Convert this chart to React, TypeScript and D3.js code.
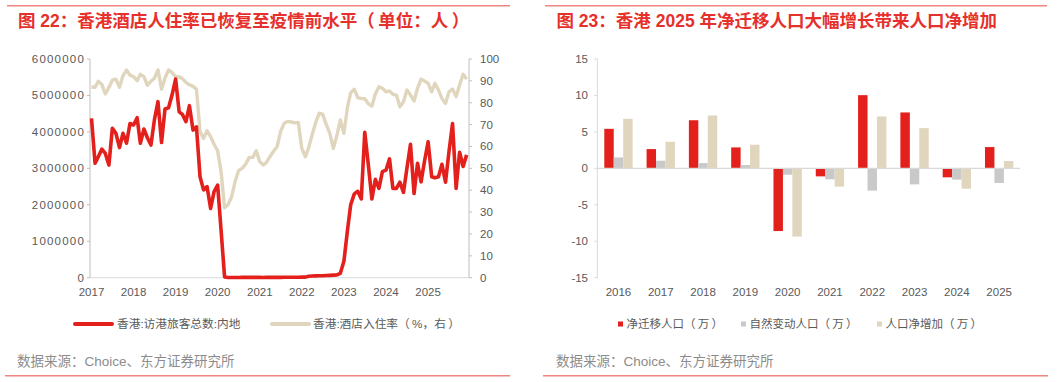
import React from "react";
import * as d3 from "d3";

// ---------- Left chart data (monthly, Jan 2017 – Dec 2025) ----------
const startMonth = new Date(2017, 0, 1);
const visitorsMainland = [
  4370000, 3140000, 3320000, 3530000, 3410000, 3090000, 4100000, 3960000, 3570000, 3960000, 3690000, 4230000,
  4190000, 4390000, 3690000, 4080000, 3840000, 3640000, 4330000, 4830000, 3710000, 4630000, 4660000, 5010000,
  5450000, 4550000, 4480000, 4280000, 4720000, 4050000, 4140000, 2770000, 2410000, 2500000, 1900000, 2360000,
  2540000, 1250000, 20000, 4000, 5000, 6000, 7000, 8000, 9000, 9000, 8000, 10000,
  8000, 7000, 8000, 9000, 9000, 10000, 10000, 11000, 12000, 12000, 13000, 14000,
  15000, 16000, 40000, 45000, 50000, 55000, 55000, 60000, 65000, 70000, 75000, 120000,
  450000, 1300000, 2000000, 2300000, 2370000, 2160000, 3990000, 3100000, 2160000, 2700000, 2450000, 2910000,
  2950000, 3260000, 2450000, 2450000, 2620000, 2340000, 3000000, 3660000, 2310000, 3140000, 2630000, 3200000,
  3730000, 2770000, 2740000, 2770000, 3110000, 2620000, 3460000, 4230000, 2450000, 3440000, 3050000, 3370000,
];
const hotelOccupancy = [
  87.2, 87.1, 89.8, 88.3, 84.0, 87.0, 90.3, 90.8, 87.1, 92.3, 94.9, 92.6,
  91.9, 90.1, 93.0, 91.9, 88.0, 89.8, 91.2, 95.0, 86.2, 91.3, 95.0, 93.8,
  92.0, 91.9, 91.0, 89.3, 88.2, 87.5, 86.2, 67.0, 63.7, 67.2, 64.5, 61.0,
  58.0, 48.0, 32.0, 33.5, 37.0, 44.0, 49.0, 50.0, 52.0, 55.0, 55.0, 58.0,
  53.0, 51.5, 52.8, 55.5, 57.8, 60.0, 67.0, 70.6, 71.5, 71.2, 70.8, 71.0,
  59.0, 55.3, 59.5, 65.5, 71.0, 75.2, 74.8, 70.0, 66.0, 59.1, 65.0, 72.1,
  66.0, 78.0, 84.6, 86.2, 82.3, 82.0, 81.8, 79.5, 78.5, 84.0, 87.3, 86.6,
  85.0, 85.4, 83.8, 83.5, 78.2, 80.5, 85.8, 83.5, 80.8, 86.6, 90.8, 89.9,
  88.9, 85.0, 88.9, 85.8, 82.0, 79.7, 85.0, 86.3, 82.8, 88.1, 93.0, 90.8,
];
const leftYTicks = [0, 1000000, 2000000, 3000000, 4000000, 5000000, 6000000];
const rightYTicks = [0, 10, 20, 30, 40, 50, 60, 70, 80, 90, 100];
const yearTicks = [2017, 2018, 2019, 2020, 2021, 2022, 2023, 2024, 2025];

// ---------- Right chart data ----------
const years = ["2016", "2017", "2018", "2019", "2020", "2021", "2022", "2023", "2024", "2025"];
const netMigration = [5.42, 2.64, 6.6, 2.87, -8.6, -1.1, 10.04, 7.67, -1.23, 2.92];
const naturalChange = [1.5, 1.05, 0.72, 0.45, -0.87, -1.5, -3.06, -2.2, -1.55, -2.0];
const netIncrease = [6.8, 3.65, 7.25, 3.24, -9.36, -2.5, 7.12, 5.52, -2.79, 1.0];
const barSeries = ["净迁移人口（\u2009万\u2009）", "自然变动人口（\u2009万\u2009）", "人口净增加（\u2009万\u2009）"];
const barTicks = [-15, -10, -5, 0, 5, 10, 15];

const RED = "#E3201B";
const BEIGE = "#E0D6BE";
const GRAY = "#C9C9C9";
const AXIS = "#BFBFBF";
const LABEL = "#595959";
const FONT = "'Liberation Sans', Arial, 'Noto Sans CJK SC', sans-serif";

export default function App() {
  // Left chart scales
  const dates = visitorsMainland.map((_, i) => d3.timeMonth.offset(startMonth, i));
  const x = d3
    .scaleTime()
    .domain([new Date(2017, 0, 1), new Date(2025, 11, 1)])
    .range([91.5, 466.6]);
  const yL = d3.scaleLinear().domain([0, 6000000]).range([277.7, 59]);
  const yR = d3.scaleLinear().domain([0, 100]).range([277.7, 59]);
  const redLine = d3
    .line<number>()
    .x((_, i) => x(dates[i]))
    .y((d) => yL(d))
    .curve(d3.curveLinear)(visitorsMainland) as string;
  const beigeLine = d3
    .line<number>()
    .x((_, i) => x(dates[i]))
    .y((d) => yR(d))(hotelOccupancy) as string;

  // Right chart scales
  const x0 = d3.scaleBand<string>().domain(years).range([597.3, 1020.3]).paddingInner(0.33).paddingOuter(0.165);
  const x1 = d3.scaleBand<string>().domain(barSeries).range([0, x0.bandwidth()]);
  const yB = d3.scaleLinear().domain([-15, 15]).range([277.7, 59]);
  const seriesValues = [netMigration, naturalChange, netIncrease];
  const seriesColors = [RED, GRAY, BEIGE];

  return (
    <svg
      width={1061}
      height={382}
      style={{ position: "absolute", left: 0, top: 0, background: "#fff" }}
      fontFamily={FONT}
    >
      <rect x={0} y={0} width={1061} height={382} fill="#fff" />
      {/* ---------------- Left panel ---------------- */}
      <line x1={7} x2={510} y1={5.8} y2={5.8} stroke="#EE8581" strokeWidth={1.6} />
      <text x={18} y={27} fontSize={17.5} fontWeight="bold" fill="#E5302B">
        图 22：香港酒店人住率已恢复至疫情前水平（{"\u2009"}单位：人{"\u2009"}）
      </text>

      {/* axes */}
      <line x1={90} x2={469} y1={277.7} y2={277.7} stroke="#D9D9D9" strokeWidth={1} />
      <line x1={90} x2={90} y1={59} y2={277.7} stroke={AXIS} strokeWidth={1} />
      <line x1={469} x2={469} y1={59} y2={277.7} stroke={AXIS} strokeWidth={1} />
      {leftYTicks.map((t) => (
        <g key={"ly" + t}>
          <line x1={87} x2={90} y1={yL(t)} y2={yL(t)} stroke={AXIS} />
          <text x={85} y={yL(t) + 4} textAnchor="end" fontSize={11.5} fill={LABEL} letterSpacing={1.2}>
            {t}
          </text>
        </g>
      ))}
      {rightYTicks.map((t) => (
        <g key={"ry" + t}>
          <line x1={469} x2={472} y1={yR(t)} y2={yR(t)} stroke={AXIS} />
          <text x={480} y={yR(t) + 4} fontSize={11.5} fill={LABEL}>
            {t}
          </text>
        </g>
      ))}
      {yearTicks.map((yv) => (
        <text key={"yr" + yv} x={x(new Date(yv, 0, 1))} y={296} textAnchor="middle" fontSize={11.5} fill={LABEL}>
          {yv}
        </text>
      ))}

      {/* lines */}
      <path d={beigeLine} fill="none" stroke={BEIGE} strokeWidth={3.4} strokeLinejoin="round" />
      <path d={redLine} fill="none" stroke={RED} strokeWidth={3.6} strokeLinejoin="round" />

      {/* legend */}
      <line x1={75} x2={112} y1={324} y2={324} stroke={RED} strokeWidth={4} strokeLinecap="round" />
      <text x={117} y={328} fontSize={11.7} fill={LABEL}>
        香港:访港旅客总数:内地
      </text>
      <line x1={272} x2={309} y1={324} y2={324} stroke={BEIGE} strokeWidth={4} strokeLinecap="round" />
      <text x={313} y={328} fontSize={11.7} fill={LABEL}>
        香港:酒店入住率（{"\u2009"}%，右{"\u2009"}）
      </text>

      <text x={17} y={366} fontSize={13.5} fill="#8C8C8C">
        数据来源：Choice、东方证券研究所
      </text>
      <line x1={5} x2={510} y1={375.8} y2={375.8} stroke="#EE8581" strokeWidth={1.4} />

      {/* ---------------- Right panel ---------------- */}
      <line x1={545} x2={1047} y1={5.8} y2={5.8} stroke="#EE8581" strokeWidth={1.6} />
      <text x={556.5} y={27} fontSize={17.5} fontWeight="bold" fill="#E5302B">
        图 23：香港 2025 年净迁移人口大幅增长带来人口净增加
      </text>

      <line x1={597.3} x2={597.3} y1={59} y2={277.7} stroke="#D9D9D9" />
      {barTicks.map((t) => (
        <g key={"by" + t}>
          <line x1={594.3} x2={597.3} y1={yB(t)} y2={yB(t)} stroke="#D9D9D9" />
          <text x={588} y={yB(t) + 4} textAnchor="end" fontSize={11.5} fill={LABEL}>
            {t}
          </text>
        </g>
      ))}
      {years.map((yr, i) => (
        <g key={"bar" + yr}>
          {seriesValues.map((vals, s) => {
            const v = vals[i];
            const bx = (x0(yr) as number) + (x1(barSeries[s]) as number);
            return (
              <rect
                key={s}
                x={bx}
                y={Math.min(yB(v), yB(0))}
                width={x1.bandwidth()}
                height={Math.abs(yB(v) - yB(0))}
                fill={seriesColors[s]}
              />
            );
          })}
          <text
            x={(x0(yr) as number) + x0.bandwidth() / 2}
            y={296}
            textAnchor="middle"
            fontSize={11.5}
            fill={LABEL}
          >
            {yr}
          </text>
        </g>
      ))}
      <line x1={597.3} x2={1020.3} y1={yB(0)} y2={yB(0)} stroke="#D9D9D9" strokeWidth={1.2} />

      {/* legend */}
      {barSeries.map((name, s) => {
        const lx = [618, 741, 877][s];
        return (
          <g key={"lg" + s}>
            <rect x={lx} y={321.5} width={5} height={5} fill={seriesColors[s]} />
            <text x={lx + 8.5} y={328} fontSize={11.5} fill={LABEL}>
              {name}
            </text>
          </g>
        );
      })}

      <text x={556} y={366} fontSize={13.5} fill="#8C8C8C">
        数据来源：Choice、东方证券研究所
      </text>
      <line x1={543} x2={1048} y1={375.8} y2={375.8} stroke="#EE8581" strokeWidth={1.4} />
    </svg>
  );
}
